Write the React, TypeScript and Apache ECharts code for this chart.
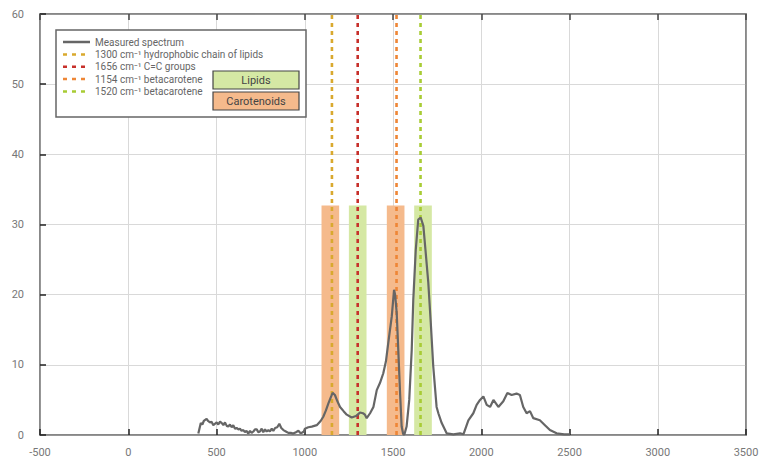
import React, { useEffect, useRef } from "react";
import * as echarts from "echarts";

const specX = [397, 411, 420, 428, 444, 452, 463, 472, 482, 491, 501, 510, 520, 530, 539, 548, 558, 567, 576, 586, 595, 605, 614, 624, 633, 642, 652, 661, 670, 680, 690, 699, 709, 718, 728, 737, 746, 756, 765, 775, 784, 794, 803, 813, 822, 832, 844, 856, 867, 879, 893, 907, 921, 935, 950, 964, 975, 983, 995, 1001, 1020, 1040, 1068, 1090, 1105, 1120, 1134, 1148, 1158, 1171, 1185, 1200, 1220, 1238, 1266, 1290, 1313, 1330, 1341, 1351, 1370, 1389, 1408, 1426, 1445, 1460, 1473, 1493, 1506, 1512, 1521, 1530, 1540, 1549, 1558, 1565, 1577, 1592, 1606, 1615, 1629, 1643, 1657, 1672, 1687, 1700, 1714, 1728, 1747, 1757, 1776, 1804, 1842, 1880, 1899, 1927, 1955, 1974, 1993, 2012, 2031, 2050, 2069, 2097, 2125, 2148, 2172, 2200, 2219, 2238, 2257, 2276, 2295, 2332, 2361, 2389, 2427, 2470, 2503];
const specY = [0.2, 1.7, 1.5, 2.0, 2.3, 2.0, 1.8, 1.9, 1.4, 1.6, 1.8, 1.5, 1.9, 1.7, 1.4, 1.8, 1.3, 1.2, 1.5, 1.1, 1.4, 0.9, 1.0, 0.8, 0.9, 0.6, 0.7, 0.4, 0.6, 0.2, 0.6, 0.3, 0.5, 0.8, 0.8, 0.4, 0.5, 0.9, 0.4, 0.8, 0.5, 0.7, 0.5, 0.9, 0.6, 1.0, 1.1, 1.6, 1.0, 0.7, 0.5, 0.3, 0.3, 0.2, 0.4, 0.6, 0.3, 0.3, 0.5, 0.9, 1.1, 1.2, 1.4, 2.0, 2.6, 3.5, 4.5, 5.4, 6.0, 5.7, 4.8, 4.0, 3.4, 2.9, 2.5, 2.7, 3.2, 3.1, 2.9, 2.4, 3.1, 4.0, 6.4, 7.4, 8.8, 10.5, 13.1, 16.9, 20.7, 20.0, 17.4, 12.1, 6.0, 1.2, 0.1, 0.1, 1.2, 5.0, 12.1, 19.3, 26.4, 30.7, 31.0, 29.8, 25.5, 21.7, 16.0, 9.8, 4.0, 3.1, 1.7, 0.24, 0.1, 0.24, 0.1, 2.1, 3.1, 4.3, 5.0, 5.5, 4.3, 4.0, 5.0, 4.0, 4.8, 6.0, 5.7, 5.9, 5.7, 4.0, 3.1, 3.4, 2.4, 2.1, 1.4, 0.7, 0.24, 0.1, 0.1];

const xTicks = { min: -500, max: 3500, interval: 500 };
const yTicks = { min: 0, max: 60, interval: 10 };

const markerPositions = [1154, 1300, 1520, 1656];
const markerColors = ["#D9A92E", "#C7302B", "#EE8636", "#A8CC34"];
const legendLabels = [
  "Measured spectrum",
  "1300 cm\u207B\u00B9 hydrophobic chain of lipids",
  "1656 cm\u207B\u00B9 C=C groups",
  "1154 cm\u207B\u00B9 betacarotene",
  "1520 cm\u207B\u00B9 betacarotene",
];

const bandRanges = [
  [1095, 1195],
  [1250, 1350],
  [1465, 1565],
  [1620, 1720],
];
const bandKinds = ["Carotenoids", "Lipids", "Carotenoids", "Lipids"];
const bandTop = 32.7;

const LIPID_FILL = "#D5E8A4";
const CAROT_FILL = "#F5BA8C";

export default function App() {
  const ref = useRef<HTMLDivElement>(null);
  useEffect(() => {
    if (!ref.current) return;
    const chart = echarts.init(ref.current, undefined, { renderer: "svg" });
    const font = "Roboto, 'DejaVu Sans', sans-serif";
    const spectrum = specX.map((x, i) => [x, specY[i]]);

    const bandSeries = {
      type: "line",
      data: [],
      silent: true,
      markArea: {
        silent: true,
        data: bandRanges.map((r, i) => [
          {
            xAxis: r[0],
            yAxis: 0,
            itemStyle: { color: bandKinds[i] === "Lipids" ? LIPID_FILL : CAROT_FILL, opacity: 1 },
          },
          { xAxis: r[1], yAxis: bandTop },
        ]),
      },
    };

    const markerSeries = markerPositions.map((p, i) => ({
      type: "line",
      data: [
        [p, 0],
        [p, 60],
      ],
      symbol: "none",
      silent: true,
      lineStyle: { color: markerColors[i], width: 2.6, type: [4, 4] },
      z: 3,
    }));

    const legendRows = [42, 54.5, 66.8, 79, 91.5];
    const legendGraphics: any[] = [
      {
        type: "rect",
        shape: { x: 56, y: 30, width: 250, height: 87 },
        style: { fill: "#fff", stroke: "#666", lineWidth: 1.5 },
        z: 100,
      },
    ];
    legendRows.forEach((y, i) => {
      legendGraphics.push({
        type: "line",
        shape: { x1: 63, y1: y, x2: 90, y2: y },
        style:
          i === 0
            ? { stroke: "#666", lineWidth: 2.5 }
            : { stroke: markerColors[i - 1], lineWidth: 2.5, lineDash: [4, 5] },
        z: 101,
      });
      legendGraphics.push({
        type: "text",
        x: 95,
        y: y,
        style: {
          text: legendLabels[i],
          fill: "#666",
          font: `10px ${font}`,
          verticalAlign: "middle",
          textAlign: "left",
        },
        z: 101,
      });
    });
    [
      { label: "Lipids", fill: LIPID_FILL, y: 71 },
      { label: "Carotenoids", fill: CAROT_FILL, y: 92 },
    ].forEach((b) => {
      legendGraphics.push({
        type: "rect",
        shape: { x: 213, y: b.y, width: 86, height: 18 },
        style: { fill: b.fill, stroke: "#444", lineWidth: 1.2 },
        z: 101,
      });
      legendGraphics.push({
        type: "text",
        x: 256,
        y: b.y + 9,
        style: {
          text: b.label,
          fill: "#444",
          font: `11px ${font}`,
          verticalAlign: "middle",
          textAlign: "center",
        },
        z: 102,
      });
    });

    const plain = (v: number) => String(v);

    chart.setOption({
      animation: false,
      backgroundColor: "#fff",
      grid: { left: 40, right: 22, top: 14, bottom: 39, containLabel: false, show: true, borderColor: "#808080", borderWidth: 1.5 },
      xAxis: [
        {
          type: "value",
          ...xTicks,
          axisLine: { show: true, onZero: false, lineStyle: { color: "#808080", width: 1.5 } },
          axisTick: { show: true, inside: true, length: 6, lineStyle: { color: "#222", width: 1.5 } },
          axisLabel: { color: "#777", fontSize: 11, fontFamily: font, margin: 12, formatter: plain },
          splitLine: { show: true, lineStyle: { color: "#D9D9D9", width: 1 } },
        },
        {
          type: "value",
          position: "top",
          ...xTicks,
          axisLine: { show: true, onZero: false, lineStyle: { color: "#808080", width: 1.5 } },
          axisTick: { show: true, inside: true, length: 6, lineStyle: { color: "#444", width: 1.5 } },
          axisLabel: { show: false },
          splitLine: { show: false },
        },
      ],
      yAxis: [
        {
          type: "value",
          ...yTicks,
          axisLine: { show: true, onZero: false, lineStyle: { color: "#808080", width: 1.5 } },
          axisTick: { show: true, inside: true, length: 6, lineStyle: { color: "#222", width: 1.5 } },
          axisLabel: { color: "#777", fontSize: 11, fontFamily: font, margin: 16, formatter: plain },
          splitLine: { show: true, lineStyle: { color: "#D9D9D9", width: 1 } },
        },
        {
          type: "value",
          position: "right",
          ...yTicks,
          axisLine: { show: true, onZero: false, lineStyle: { color: "#808080", width: 1.5 } },
          axisTick: { show: false },
          axisLabel: { show: false },
          splitLine: { show: false },
        },
      ],
      series: [
        bandSeries,
        ...markerSeries,
        {
          type: "line",
          name: legendLabels[0],
          data: spectrum,
          symbol: "none",
          smooth: false,
          lineStyle: { color: "#666", width: 2.2 },
          z: 5,
        },
      ],
      graphic: legendGraphics,
    });
    return () => chart.dispose();
  }, []);
  return <div ref={ref} style={{ position: "absolute", left: 0, top: 0, width: 768, height: 474 }} />;
}
